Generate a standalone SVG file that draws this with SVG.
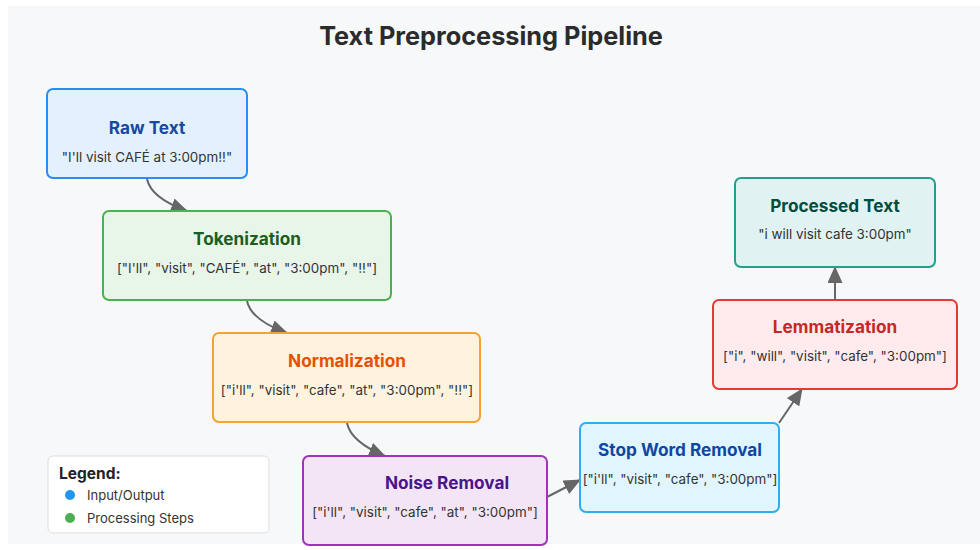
<svg xmlns="http://www.w3.org/2000/svg" width="980" height="550" viewBox="0 0 980 550">
  <style>
    .title { font-family: Inter, "Noto Sans", "DejaVu Sans", sans-serif; font-size: 25.3px; font-weight: 700; fill: #2b2b2b; text-anchor: middle; }
    .node-title { font-family: Inter, "Noto Sans", "DejaVu Sans", sans-serif; font-size: 17.2px; font-weight: 700; text-anchor: middle; }
    .node-sub { font-family: Inter, "Noto Sans", "DejaVu Sans", sans-serif; font-size: 13.4px; fill: #333; text-anchor: middle; }
    .edge { fill: none; stroke: #666; stroke-width: 2; }
    .legend-title { font-family: Inter, "Noto Sans", "DejaVu Sans", sans-serif; font-size: 15.5px; font-weight: 700; fill: #222; }
    .legend-text { font-family: Inter, "Noto Sans", "DejaVu Sans", sans-serif; font-size: 13px; fill: #333; }
  </style>
  <defs>
    <marker id="arrow" markerUnits="userSpaceOnUse" markerWidth="17" markerHeight="15" refX="16" refY="7.5" orient="auto">
      <path d="M0,0 L17,7.5 L0,15 z" fill="#666"/>
    </marker>
  </defs>

  <rect x="0" y="0" width="980" height="550" fill="#ffffff"/>
  <rect x="8" y="6" width="972" height="538" fill="#f7f8fa"/>

  <text class="title" x="491" y="45">Text Preprocessing Pipeline</text>

  <!-- connectors -->
  <g id="connectors">
    <path class="edge" d="M147,179 Q151,198 187,211" marker-end="url(#arrow)"/>
    <path class="edge" d="M247,301 Q251,320 287,333" marker-end="url(#arrow)"/>
    <path class="edge" d="M347,423 Q351,442 385,456" marker-end="url(#arrow)"/>
    <path class="edge" d="M547,497 L580,480" marker-end="url(#arrow)"/>
    <path class="edge" d="M779,423 L802,389" marker-end="url(#arrow)"/>
    <path class="edge" d="M835,300 L835,267" marker-end="url(#arrow)"/>
  </g>

  <!-- pipeline nodes -->
  <g id="raw-text">
    <rect x="47" y="89" width="200" height="89" rx="6" fill="#e3f0fd" stroke="#2b8df0" stroke-width="2"/>
    <text class="node-title" x="147" y="134" fill="#1a47a0">Raw Text</text>
    <text class="node-sub" x="147" y="162">"I'll visit CAFÉ at 3:00pm!!"</text>
  </g>

  <g id="tokenization">
    <rect x="103" y="211" width="288" height="89" rx="6" fill="#e8f5e9" stroke="#4caf50" stroke-width="2"/>
    <text class="node-title" x="247" y="245" fill="#1b5e20">Tokenization</text>
    <text class="node-sub" x="247" y="273">["I'll", "visit", "CAFÉ", "at", "3:00pm", "!!"]</text>
  </g>

  <g id="normalization">
    <rect x="213" y="333" width="267" height="89" rx="6" fill="#fff3e0" stroke="#f7a22a" stroke-width="2"/>
    <text class="node-title" x="347" y="367" fill="#e65100">Normalization</text>
    <text class="node-sub" x="347" y="395">["i'll", "visit", "cafe", "at", "3:00pm", "!!"]</text>
  </g>

  <g id="noise-removal">
    <rect x="303" y="456" width="244" height="89" rx="6" fill="#f3e5f5" stroke="#a033b8" stroke-width="2"/>
    <text class="node-title" x="447" y="489" fill="#4a148c">Noise Removal</text>
    <text class="node-sub" x="425" y="517">["i'll", "visit", "cafe", "at", "3:00pm"]</text>
  </g>

  <g id="stop-word-removal">
    <rect x="580" y="423" width="199" height="89" rx="6" fill="#e1f5fe" stroke="#33acef" stroke-width="2"/>
    <text class="node-title" x="680" y="456" fill="#0d47a1">Stop Word Removal</text>
    <text class="node-sub" x="680" y="484">["i'll", "visit", "cafe", "3:00pm"]</text>
  </g>

  <g id="lemmatization">
    <rect x="713" y="300" width="244" height="89" rx="6" fill="#ffebee" stroke="#e53935" stroke-width="2"/>
    <text class="node-title" x="835" y="333" fill="#c62828">Lemmatization</text>
    <text class="node-sub" x="835" y="361">["i", "will", "visit", "cafe", "3:00pm"]</text>
  </g>

  <g id="processed-text">
    <rect x="735" y="178" width="200" height="89" rx="6" fill="#e0f2f1" stroke="#2a9d8a" stroke-width="2"/>
    <text class="node-title" x="835" y="212" fill="#004d40">Processed Text</text>
    <text class="node-sub" x="835" y="239">"i will visit cafe 3:00pm"</text>
  </g>

  <!-- legend -->
  <g id="legend">
    <rect x="48" y="456" width="221" height="77" rx="5" fill="#ffffff" stroke="#dddddd" stroke-width="1"/>
    <text class="legend-title" x="59" y="479">Legend:</text>
    <circle cx="70" cy="495" r="5" fill="#2196f3"/>
    <text class="legend-text" x="87" y="500">Input/Output</text>
    <circle cx="70" cy="518" r="5" fill="#4caf50"/>
    <text class="legend-text" x="87" y="523">Processing Steps</text>
  </g>
</svg>
